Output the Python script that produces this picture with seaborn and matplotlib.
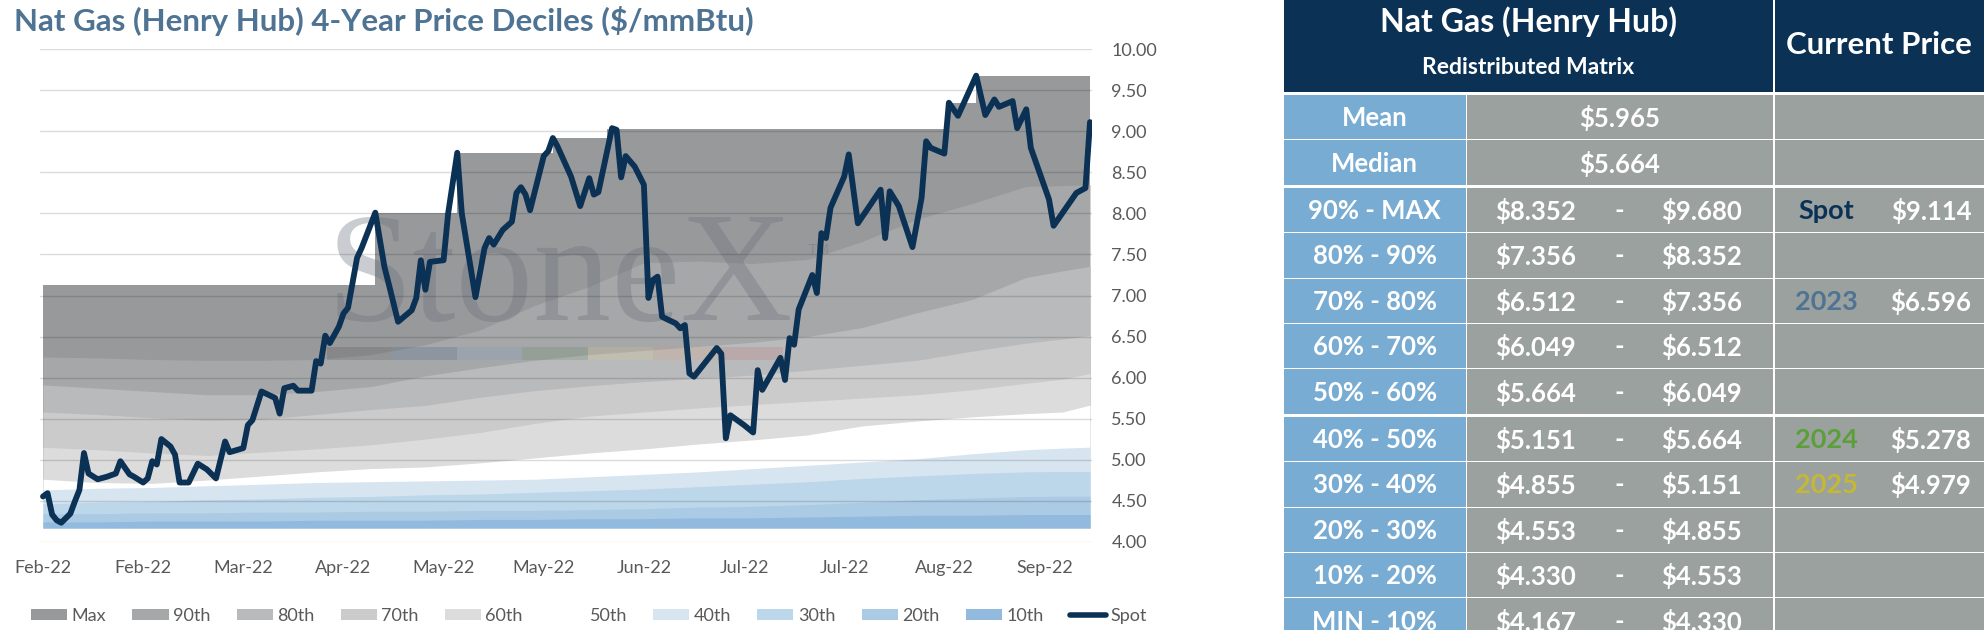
import numpy as np
import pandas as pd
import matplotlib
matplotlib.use("Agg")
import matplotlib.pyplot as plt
import seaborn as sns
from matplotlib.patches import Patch, Rectangle
from matplotlib.lines import Line2D

# ---------------- data ----------------
chart_title = "Nat Gas (Henry Hub) 4-Year Price Deciles ($/mmBtu)"
tick_days = [0, 22, 44, 66, 88, 110, 132, 154, 176, 198, 220]
tick_labels = ["Feb-22", "Feb-22", "Mar-22", "Apr-22", "May-22", "May-22",
               "Jun-22", "Jul-22", "Jul-22", "Aug-22", "Sep-22"]
y_ticks = [4.0, 4.5, 5.0, 5.5, 6.0, 6.5, 7.0, 7.5, 8.0, 8.5, 9.0, 9.5, 10.0]
y_tick_labels = ["4.00", "4.50", "5.00", "5.50", "6.00", "6.50", "7.00",
                 "7.50", "8.00", "8.50", "9.00", "9.50", "10.00"]

spot_days = [0, 1, 2, 3, 4, 6, 7, 8, 9, 10, 12, 14, 16, 17, 19, 20, 22, 23, 24, 25,
             26, 28, 29, 30, 32, 34, 36, 38, 40, 41, 44, 45, 46, 48, 51, 52, 53, 55, 56, 59,
             60, 61, 62, 63, 65, 66, 67, 69, 70, 73, 75, 76, 78, 81, 82, 83, 84, 85, 88, 89,
             91, 92, 95, 97, 98, 99, 101, 103, 104, 105, 106, 107, 110, 111, 112, 113, 116, 118, 120, 121,
             122, 125, 126, 127, 128, 130, 132, 133, 134, 135, 136, 139, 140, 141, 142, 143, 145, 148, 149, 150,
             151, 153, 154, 156, 157, 158, 162, 163, 164, 165, 166, 169, 170, 171, 172, 173, 176, 177, 179, 184,
             185, 186, 188, 191, 193, 194, 195, 198, 199, 201, 205, 207, 209, 210, 213, 214, 216, 217, 221, 222,
             227, 229, 230]
spot_price = [4.55, 4.59, 4.33, 4.26, 4.23, 4.34, 4.49, 4.63, 5.08, 4.83,
              4.76, 4.79, 4.83, 4.98, 4.82, 4.79, 4.72, 4.77, 4.98, 4.94,
              5.25, 5.16, 5.06, 4.72, 4.72, 4.95, 4.88, 4.77, 5.22, 5.09,
              5.14, 5.42, 5.48, 5.83, 5.75, 5.56, 5.87, 5.90, 5.84, 5.84,
              6.20, 6.17, 6.51, 6.42, 6.62, 6.78, 6.85, 7.46, 7.58, 8.01,
              7.35, 7.13, 6.68, 6.82, 6.97, 7.43, 7.07, 7.41, 7.43, 8.00,
              8.74, 8.00, 6.98, 7.58, 7.70, 7.62, 7.80, 7.90, 8.25, 8.32,
              8.23, 8.04, 8.70, 8.76, 8.92, 8.82, 8.45, 8.09, 8.43, 8.23,
              8.26, 9.04, 9.02, 8.44, 8.70, 8.57, 8.35, 6.97, 7.19, 7.23,
              6.74, 6.66, 6.60, 6.64, 6.05, 6.01, 6.15, 6.36, 6.29, 5.26,
              5.54, 5.46, 5.42, 5.33, 6.09, 5.85, 6.24, 5.97, 6.48, 6.40,
              6.83, 7.25, 7.03, 7.76, 7.70, 8.07, 8.45, 8.72, 7.88, 8.29,
              7.70, 8.27, 8.09, 7.59, 8.19, 8.88, 8.80, 8.73, 9.35, 9.19,
              9.68, 9.20, 9.39, 9.30, 9.37, 9.04, 9.27, 8.80, 8.17, 7.85,
              8.25, 8.31, 9.114]

band_days = [0, 12, 24, 36, 48, 60, 72, 84, 96, 108, 120, 132, 144, 156, 168, 180, 192, 204, 216, 224, 230]
p90 = [6.25, 6.24, 6.22, 6.21, 6.21, 6.22, 6.28, 6.40, 6.58, 6.88, 7.11, 7.40, 7.42, 7.39, 7.44, 7.66, 7.93, 8.12, 8.33, 8.34, 8.352]
p80 = [5.91, 5.87, 5.83, 5.79, 5.79, 5.83, 5.89, 6.02, 6.12, 6.21, 6.28, 6.33, 6.38, 6.43, 6.50, 6.61, 6.79, 6.95, 7.22, 7.30, 7.356]
p70 = [5.58, 5.55, 5.51, 5.48, 5.49, 5.55, 5.61, 5.66, 5.76, 5.84, 5.90, 5.95, 5.99, 6.03, 6.09, 6.15, 6.21, 6.32, 6.42, 6.47, 6.512]
p60 = [5.15, 5.12, 5.08, 5.05, 5.09, 5.13, 5.18, 5.25, 5.33, 5.44, 5.53, 5.58, 5.63, 5.67, 5.71, 5.75, 5.79, 5.85, 5.93, 5.98, 6.049]
p50 = [4.76, 4.72, 4.71, 4.75, 4.80, 4.85, 4.89, 4.91, 4.96, 5.02, 5.08, 5.13, 5.19, 5.24, 5.30, 5.41, 5.47, 5.52, 5.56, 5.58, 5.664]
p40 = [4.63, 4.65, 4.66, 4.68, 4.70, 4.72, 4.73, 4.74, 4.75, 4.76, 4.79, 4.82, 4.85, 4.89, 4.93, 4.97, 5.01, 5.07, 5.12, 5.14, 5.151]
p30 = [4.46, 4.48, 4.49, 4.51, 4.52, 4.54, 4.55, 4.57, 4.58, 4.60, 4.62, 4.64, 4.67, 4.70, 4.73, 4.77, 4.80, 4.83, 4.85, 4.855, 4.855]
p20 = [4.34, 4.34, 4.35, 4.35, 4.36, 4.36, 4.37, 4.37, 4.38, 4.38, 4.39, 4.40, 4.42, 4.43, 4.45, 4.48, 4.51, 4.53, 4.55, 4.553, 4.553]
p10 = [4.24, 4.24, 4.25, 4.25, 4.25, 4.26, 4.26, 4.26, 4.27, 4.27, 4.28, 4.28, 4.29, 4.29, 4.30, 4.31, 4.32, 4.32, 4.33, 4.33, 4.33]
max_days = [0, 73, 91, 112, 124, 199, 205, 230]
max_vals = [7.13, 8.01, 8.74, 8.92, 9.03, 9.35, 9.68, 9.68]
min_price = 4.167

legend_labels = ["Max", "90th", "80th", "70th", "60th", "50th", "40th", "30th", "20th", "10th", "Spot"]

# table data
table_header_left = "Nat Gas (Henry Hub)"
table_subheader = "Redistributed Matrix"
table_header_right = "Current Price"
row_labels = ["Mean", "Median", "90% - MAX", "80% - 90%", "70% - 80%", "60% - 70%",
              "50% - 60%", "40% - 50%", "30% - 40%", "20% - 30%", "10% - 20%", "MIN - 10%"]
mean_val = 5.965
median_val = 5.664
decile_low = [8.352, 7.356, 6.512, 6.049, 5.664, 5.151, 4.855, 4.553, 4.330, 4.167]
decile_high = [9.680, 8.352, 7.356, 6.512, 6.049, 5.664, 5.151, 4.855, 4.553, 4.330]
current_names = ["Spot", "2023", "2024", "2025"]
current_vals = [9.114, 6.596, 5.278, 4.979]
current_rows = ["90% - MAX", "70% - 80%", "40% - 50%", "30% - 40%"]

# ---------------- style ----------------
sns.set_theme(style="white")
plt.rcParams["font.family"] = ["Lato", "DejaVu Sans"]

navy = "#0b3155"
band_colors = {
    "Max": "#98999b", "90th": "#a6a7a9", "80th": "#b9babc", "70th": "#cbcbcb",
    "60th": "#dcdcdc", "50th": "#ffffff", "40th": "#d7e5f1", "30th": "#bcd6ea",
    "20th": "#abcae4", "10th": "#92bade",
}
current_colors = ["#0b3155", "#4f7392", "#5b9f3a", "#c5b833"]
text_gray = "#595959"

W, H = 1984, 630
fig = plt.figure(figsize=(W / 100, H / 100), dpi=100)
fig.patch.set_facecolor("white")

ax_l, ax_r, ax_t, ax_b = 40, 1092, 49, 542
ax = fig.add_axes([ax_l / W, 1 - ax_b / H, (ax_r - ax_l) / W, (ax_b - ax_t) / H])

# ---------------- bands ----------------
sx, sy = [max_days[0]], [max_vals[0]]
for i in range(1, len(max_days)):
    sx += [max_days[i], max_days[i]]
    sy += [max_vals[i - 1], max_vals[i]]
ax.fill_between(sx, min_price, sy, color=band_colors["Max"], lw=0, zorder=1)

for name, curve in [("90th", p90), ("80th", p80), ("70th", p70), ("60th", p60),
                    ("50th", p50), ("40th", p40), ("30th", p30), ("20th", p20), ("10th", p10)]:
    ax.fill_between(band_days, min_price, curve, color=band_colors[name], lw=0, zorder=1)

# watermark
wm_color = "#6a737d"
ax.text(0.272, 0.45, "StoneX", transform=ax.transAxes, fontsize=112,
        family=["Liberation Serif", "DejaVu Serif"], color=wm_color, alpha=0.36,
        va="baseline", ha="left", zorder=2)
ax.text(0.73, 0.607, "TM", transform=ax.transAxes, fontsize=11,
        family=["Liberation Sans", "DejaVu Sans"], color=wm_color, alpha=0.36,
        va="top", ha="left", zorder=2)
bar_colors = ["#3a3a3a", "#1f4e79", "#6a95bd", "#4d7c4d", "#e3d27a", "#e0a070", "#c06060"]
bx0, bx1 = (327 - ax_l) / (ax_r - ax_l), (783 - ax_l) / (ax_r - ax_l)
by0, by1 = (ax_b - 360) / (ax_b - ax_t), (ax_b - 347) / (ax_b - ax_t)
seg = (bx1 - bx0) / len(bar_colors)
for i, c in enumerate(bar_colors):
    ax.add_patch(Rectangle((bx0 + i * seg, by0), seg, by1 - by0, transform=ax.transAxes,
                           color=c, alpha=0.18, lw=0, zorder=2))

# spot line
sns.lineplot(x=spot_days, y=spot_price, ax=ax, color=navy, linewidth=4.2, zorder=4)
for ln in ax.lines:
    ln.set_solid_joinstyle("round")
    ln.set_solid_capstyle("round")

# ---------------- axes ----------------
px_per_day = (1090 - 43) / 230
ax.set_xlim(-(43 - ax_l) / px_per_day, 230 + (ax_r - 1090) / px_per_day)
ax.set_ylim(3.995, 10.005)
ax.set_xticks(tick_days, tick_labels)
ax.set_yticks(y_ticks, y_tick_labels)
ax.yaxis.tick_right()
ax.tick_params(axis="y", length=0, pad=14, labelsize=13, labelcolor=text_gray)
ax.tick_params(axis="x", length=0, pad=13, labelsize=13, labelcolor=text_gray)
ax.set_xlabel("")
ax.set_ylabel("")
for s in ax.spines.values():
    s.set_visible(False)
ax.set_axisbelow(False)
ax.yaxis.grid(True, color="black", alpha=0.14, linewidth=1.0)
ax.xaxis.grid(False)
ax.set_facecolor("none")

# legend
handles = [Patch(facecolor=band_colors[n], edgecolor="none") for n in legend_labels[:-1]]
handles.append(Line2D([0], [0], color=navy, lw=4, solid_capstyle="round"))
fig.legend(handles, legend_labels, loc="center left", bbox_to_anchor=(31 / W, 1 - 616 / H),
           ncol=11, frameon=False, fontsize=13, handlelength=2.0, handleheight=0.6,
           handletextpad=0.25, columnspacing=1.45, borderpad=0, borderaxespad=0,
           labelcolor=text_gray)

# title
fig.text(14 / W, 1 - 31 / H, chart_title, ha="left", va="baseline", fontsize=22.5,
         fontweight="bold", color="#4f7392")

# ---------------- table ----------------
tx0 = 1284
tax = fig.add_axes([tx0 / W, 0, (W - tx0) / W, 1])
tax.set_xlim(tx0, W)
tax.set_ylim(H, 0)
tax.axis("off")

blue_cell = "#79acd3"
gray_cell = "#9ba19f"
c0 = (1284, 1465.5)
c1 = (1467, 1772.5)
c2 = (1774.5, 1984)

tax.add_patch(Rectangle((c0[0], 0), c1[1] - c0[0], 92, color=navy, lw=0))
tax.add_patch(Rectangle((c2[0], 0), c2[1] - c2[0], 92, color=navy, lw=0))
tax.text((c0[0] + c1[1]) / 2, 22, table_header_left, ha="center", va="center",
         fontsize=23, fontweight="bold", color="white")
tax.text((c0[0] + c1[1]) / 2, 68, table_subheader, ha="center", va="center",
         fontsize=16.5, fontweight="bold", color="white")
tax.text((c2[0] + c2[1]) / 2, 45, table_header_right, ha="center", va="center",
         fontsize=22.5, fontweight="bold", color="white")

cell_fs = 18.5
pitch, cell_h = 45.4, 44.4
for i, lab in enumerate(row_labels):
    top = 95 + i * pitch + (2 if i >= 2 else 0) + (2 if i >= 7 else 0)
    yc = top + cell_h / 2 + 1
    tax.add_patch(Rectangle((c0[0], top), c0[1] - c0[0], cell_h, color=blue_cell, lw=0))
    tax.add_patch(Rectangle((c1[0], top), c1[1] - c1[0], cell_h, color=gray_cell, lw=0))
    tax.add_patch(Rectangle((c2[0], top), c2[1] - c2[0], cell_h, color=gray_cell, lw=0))
    tax.text((c0[0] + c0[1]) / 2, yc, lab, ha="center", va="center",
             fontsize=cell_fs, fontweight="bold", color="white")
    if i == 0:
        tax.text(1620, yc, f"${mean_val:.3f}", ha="center", va="center",
                 fontsize=cell_fs, fontweight="bold", color="white")
    elif i == 1:
        tax.text(1620, yc, f"${median_val:.3f}", ha="center", va="center",
                 fontsize=cell_fs, fontweight="bold", color="white")
    else:
        k = i - 2
        tax.text(1536, yc, f"${decile_low[k]:.3f}", ha="center", va="center",
                 fontsize=cell_fs, fontweight="bold", color="white")
        tax.text(1619, yc, "-", ha="center", va="center",
                 fontsize=cell_fs, fontweight="bold", color="white")
        tax.text(1702, yc, f"${decile_high[k]:.3f}", ha="center", va="center",
                 fontsize=cell_fs, fontweight="bold", color="white")
    if lab in current_rows:
        j = current_rows.index(lab)
        tax.text(1826, yc, current_names[j], ha="center", va="center",
                 fontsize=cell_fs + 1, fontweight="bold", color=current_colors[j])
        tax.text(1931, yc, f"${current_vals[j]:.3f}", ha="center", va="center",
                 fontsize=cell_fs, fontweight="bold", color="white")

fig.savefig("out.png", dpi=100)
